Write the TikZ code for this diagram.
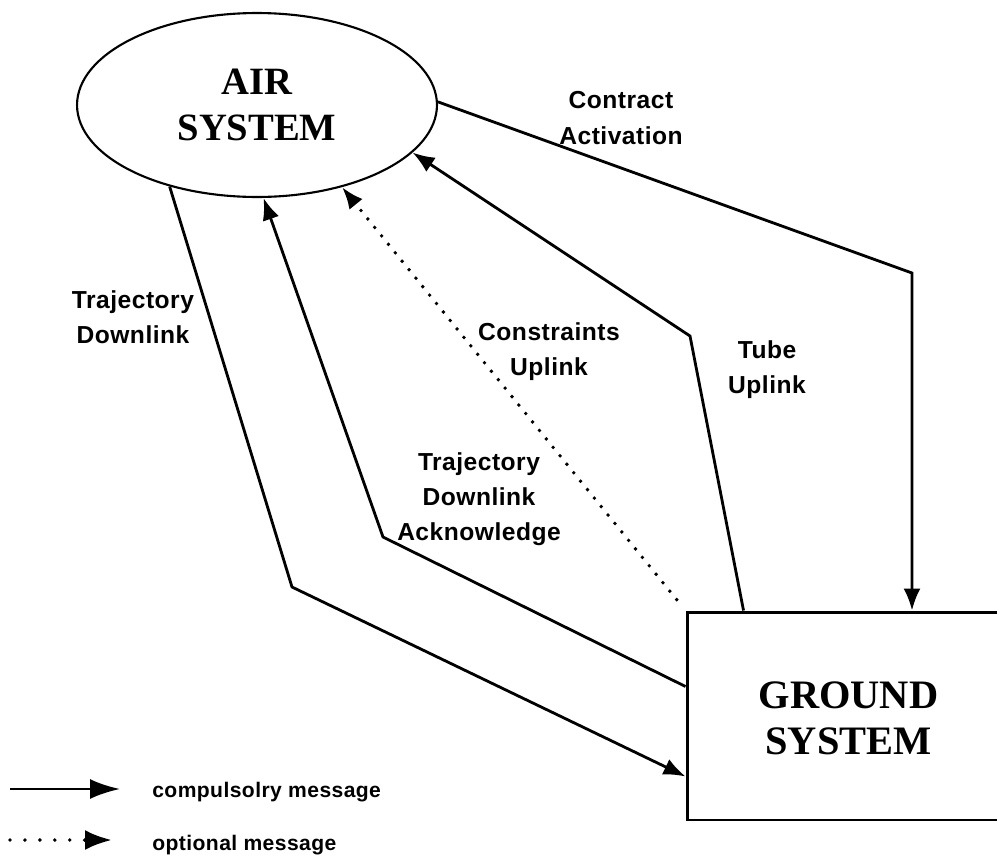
\documentclass[tikz,border=0pt]{standalone}
\usepackage{fontspec}
\setmainfont{Liberation Serif}
\newfontfamily\lblfont[LetterSpace=2]{Liberation Sans}
\usepackage{tikz}
\usetikzlibrary{shapes.geometric}
\usetikzlibrary{arrows.meta}
\tikzstyle{sys}=[draw,align=center,inner sep=0pt,font=\bfseries\fontsize{22}{26}\selectfont]
\tikzstyle{lbl}=[align=center,inner sep=0pt,font=\lblfont\bfseries\fontsize{14}{20}\selectfont]
\tikzstyle{legtext}=[anchor=base west,inner sep=0pt,font=\lblfont\bfseries\fontsize{12}{14}\selectfont]
\tikzstyle{msg}=[line width=1.6pt,-{Latex[length=4.4mm,width=3.4mm]}]
\tikzstyle{opt}=[msg,line width=2.2pt,line cap=round,dash pattern=on 0pt off 6.2pt]

\begin{document}
\begin{tikzpicture}[x=0.02cm,y=-0.02cm]
\useasboundingbox (0,0) rectangle (997,866);

%air system
\node[sys,ellipse,line width=1.2pt,minimum width=7.2cm,minimum height=3.68cm] (air) at (257,105) {AIR\\SYSTEM};

%ground system (its right side runs off the page)
\node[sys,rectangle,line width=1.7pt,minimum width=7.2cm,minimum height=4.16cm,font=\bfseries\fontsize{23}{26}\selectfont] (ground) at (867,716) {};
\node[align=center,inner sep=0pt,font=\bfseries\fontsize{23}{26}\selectfont] (groundtxt) at (848.5,718) {GROUND\\SYSTEM};

%bends and feet
\coordinate (cbend) at (912,273);
\coordinate (tbend) at (690,336);
\coordinate (abend) at (383,537);
\coordinate (dbend) at (292,587);
\coordinate (tfoot) at ([xshift=1.16cm]ground.north west);
\coordinate (afoot) at ([yshift=-1.52cm]ground.north west);
\coordinate (dfoot) at ([yshift=-3.32cm]ground.north west);

%messages
\draw[msg] (air.1) -- (cbend) -- (cbend |- ground.north);
\draw[msg] (tfoot) -- (tbend) -- (air.-17);
\draw[opt,shorten <=8pt] (ground.north west) -- (air.-44);
\draw[msg] (afoot) -- (abend) -- (air.-86);
\draw[msg] (air.-137) -- (dbend) -- (dfoot);

%labels
\node[lbl] (contract) at (621,118) {Contract\\Activation};
\node[lbl] (trajdown) at (133,317) {Trajectory\\Downlink};
\node[lbl] (constr) at (549,352) {Constraints\\Uplink};
\node[lbl] (tube) at (767,370) {Tube\\Uplink};
\node[lbl] (ack) at (479,499) {Trajectory\\Downlink\\Acknowledge};

%legend
\coordinate (solida) at (10,789);
\coordinate (solidb) at (120,789);
\coordinate (dota) at (10,840);
\coordinate (dotb) at (112,840);
\draw[msg,-{Latex[length=6mm,width=4mm]}] (solida) -- (solidb);
\draw[opt,dash pattern=on 0pt off 8.5pt,-{Latex[length=5.4mm,width=4mm]}] (dota) -- (dotb);
\node[legtext] (compul) at (152,797) {compulsolry message};
\node[legtext] (optmsg) at (152,850) {optional message};

\end{tikzpicture}
\end{document}
